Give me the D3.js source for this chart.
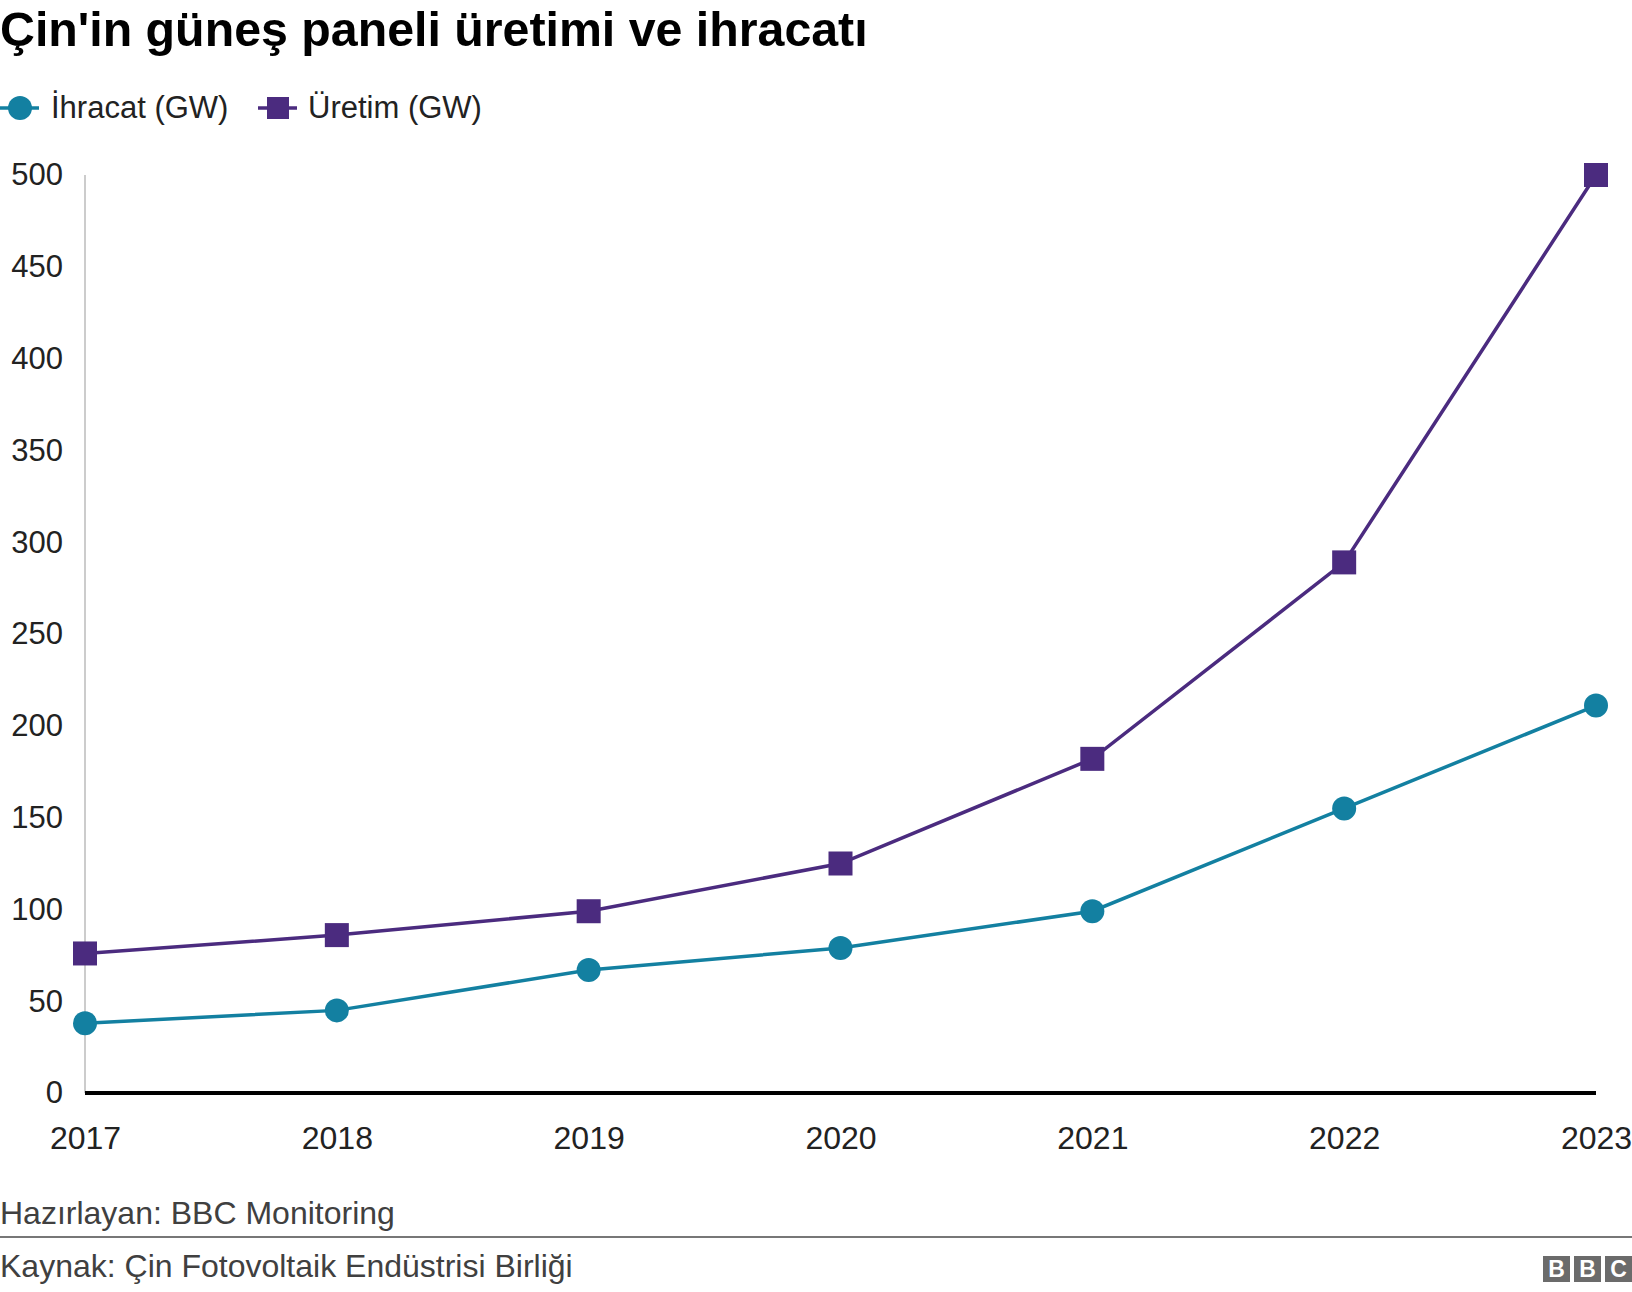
<!DOCTYPE html>
<html>
<head>
<meta charset="utf-8">
<script src="https://cdn.jsdelivr.net/npm/d3@7"></script>
<style>
  html, body { margin: 0; padding: 0; background: #fff; }
  svg { display: block; font-family: "Liberation Sans", Arial, Helvetica, sans-serif; }
</style>
</head>
<body>
<svg id="chart" width="1632" height="1292"></svg>
<script>
const years = ["2017", "2018", "2019", "2020", "2021", "2022", "2023"];
const ihracat = [38, 45, 67, 79, 99, 155, 211];
const uretim = [76, 86, 99, 125, 182, 289, 500];
const yTicks = [0, 50, 100, 150, 200, 250, 300, 350, 400, 450, 500];

const title = "Çin'in güneş paneli üretimi ve ihracatı";
const legendLabels = ["İhracat (GW)", "Üretim (GW)"];
const footerPrepared = "Hazırlayan: BBC Monitoring";
const footerSource = "Kaynak: Çin Fotovoltaik Endüstrisi Birliği";

const teal = "#1380a1";
const purple = "#4b2b7f";

const svg = d3.select("#chart");

const x = d3.scalePoint().domain(years).range([85, 1596]);
const y = d3.scaleLinear().domain([0, 500]).range([1093, 175]);

// Title
svg.append("text")
  .attr("x", 0).attr("y", 46)
  .attr("font-size", 48.3).attr("font-weight", "bold").attr("fill", "#000")
  .text(title);

// Legend
const leg = svg.append("g");
const l1 = leg.append("g");
l1.append("line").attr("x1", 0).attr("x2", 39).attr("y1", 108).attr("y2", 108)
  .attr("stroke", teal).attr("stroke-width", 3.5);
l1.append("circle").attr("cx", 20).attr("cy", 108).attr("r", 12).attr("fill", teal);
l1.append("text").attr("x", 51).attr("y", 118).attr("font-size", 31).attr("fill", "#222")
  .text(legendLabels[0]);
const l2 = leg.append("g");
l2.append("line").attr("x1", 258).attr("x2", 297).attr("y1", 108).attr("y2", 108)
  .attr("stroke", purple).attr("stroke-width", 3.5);
l2.append("rect").attr("x", 267).attr("y", 97).attr("width", 22).attr("height", 22).attr("fill", purple);
l2.append("text").attr("x", 308).attr("y", 118).attr("font-size", 31).attr("fill", "#222")
  .text(legendLabels[1]);

// Y axis
const yAxis = svg.append("g").attr("transform", "translate(85,0)")
  .call(d3.axisLeft(y).tickValues(yTicks).tickSize(0).tickPadding(22));
yAxis.select(".domain").remove();
yAxis.selectAll("text").attr("font-size", 31).attr("fill", "#222")
  .attr("font-family", "'Liberation Sans', Arial, sans-serif");

svg.append("line")
  .attr("x1", 85).attr("x2", 85).attr("y1", y(500)).attr("y2", y(0))
  .attr("stroke", "#cccccc").attr("stroke-width", 2);

// X axis
const xAxis = svg.append("g").attr("transform", `translate(0,${y(0)})`)
  .call(d3.axisBottom(x).tickSize(0).tickPadding(33));
xAxis.select(".domain").remove();
xAxis.selectAll("text").attr("font-size", 32).attr("fill", "#222")
  .attr("font-family", "'Liberation Sans', Arial, sans-serif");

svg.append("line")
  .attr("x1", x(years[0])).attr("x2", x(years[years.length - 1]))
  .attr("y1", y(0)).attr("y2", y(0))
  .attr("stroke", "#000").attr("stroke-width", 4);

// Lines
const line = d3.line().x((d, i) => x(years[i])).y(d => y(d));

svg.append("path").datum(uretim).attr("d", line)
  .attr("fill", "none").attr("stroke", purple).attr("stroke-width", 3.5);
svg.append("path").datum(ihracat).attr("d", line)
  .attr("fill", "none").attr("stroke", teal).attr("stroke-width", 3.5);

svg.selectAll("rect.u").data(uretim).enter().append("rect")
  .attr("class", "u")
  .attr("x", (d, i) => x(years[i]) - 12).attr("y", d => y(d) - 12)
  .attr("width", 24).attr("height", 24).attr("fill", purple);

svg.selectAll("circle.e").data(ihracat).enter().append("circle")
  .attr("class", "e")
  .attr("cx", (d, i) => x(years[i])).attr("cy", d => y(d))
  .attr("r", 12).attr("fill", teal);

// Footer
svg.append("text").attr("x", 0).attr("y", 1224).attr("font-size", 32).attr("fill", "#404040")
  .text(footerPrepared);
svg.append("line").attr("x1", 0).attr("x2", 1632).attr("y1", 1237).attr("y2", 1237)
  .attr("stroke", "#777").attr("stroke-width", 2);
svg.append("text").attr("x", 0).attr("y", 1277).attr("font-size", 32).attr("fill", "#404040")
  .text(footerSource);

// BBC logo
const logo = svg.append("g");
["B", "B", "C"].forEach((ch, i) => {
  const bx = 1543 + i * 31;
  logo.append("rect").attr("x", bx).attr("y", 1256).attr("width", 27).attr("height", 26).attr("fill", "#6b6b6b");
  logo.append("text").attr("x", bx + 13.5).attr("y", 1277).attr("text-anchor", "middle")
    .attr("font-size", 23).attr("font-weight", "bold").attr("fill", "#fff").text(ch);
});
</script>
</body>
</html>
